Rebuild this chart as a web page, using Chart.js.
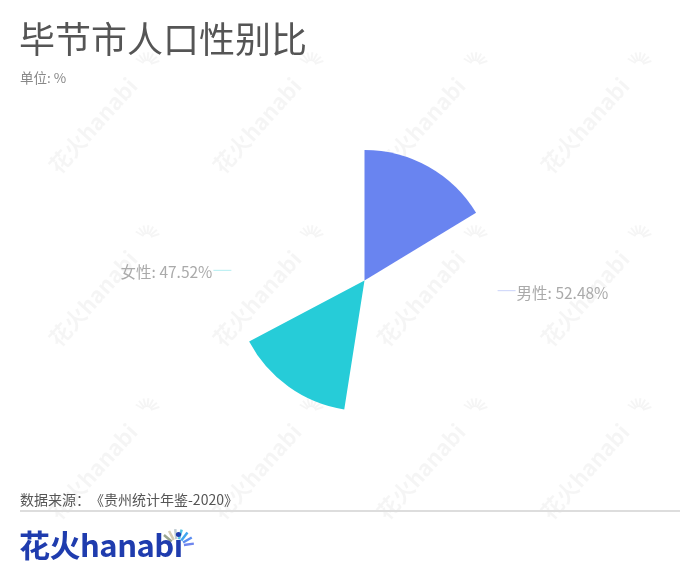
<!DOCTYPE html>
<html>
<head>
<meta charset="utf-8">
<script src="https://cdn.jsdelivr.net/npm/chart.js@4/dist/chart.umd.min.js"></script>
<style>
	body { margin: 0; background: #fff; font-family: "Noto Sans CJK SC", "Noto Sans", sans-serif; text-spacing-trim: space-all; }
	#wrap { position: relative; width: 700px; height: 576px; overflow: hidden; }
	#chart { position: absolute; left: 0; top: 0; }
	.txt { position: absolute; white-space: nowrap; }
	#title { left: 19px; top: 17px; font-size: 36px; line-height: 40px; color: #555; }
	#unit { left: 20px; top: 68px; font-size: 13.5px; line-height: 18px; color: #888; }
	#source { left: 20px; top: 490px; font-size: 14px; line-height: 18px; color: #555; }
	#rule { position: absolute; left: 20px; top: 510px; width: 660px; height: 2px; background: #ddd; }
	#logo { left: 19px; top: 525px; font-size: 31px; line-height: 38px; font-weight: bold; color: #1f3cae; letter-spacing: -0.5px; }
</style>
</head>
<body>
<div id="wrap">
	<canvas id="chart" width="700" height="576"></canvas>
	<div class="txt" id="title">毕节市人口性别比</div>
	<div class="txt" id="unit">单位: %</div>
	<div class="txt" id="source">数据来源：《贵州统计年鉴-2020》</div>
	<div id="rule"></div>
	<div class="txt" id="logo">花火hanabi</div>
</div>
<script>
// Données : rapport hommes / femmes (%)
var categories = ['男性', '女性'];
var values = [52.48, 47.52];
var colors = ['#6984f0', '#26ccd8'];

// part de chaque secteur effectivement tracée (l'image est prise en cours d'animation)
var sweep = 0.311;

// Filigrane "花火hanabi" répété sur tout le fond
var watermark = {
	id: 'watermark',
	beforeDraw: function (chart) {
		var ctx = chart.ctx;
		ctx.save();
		ctx.fillStyle = '#fff';
		ctx.fillRect(0, 0, chart.width, chart.height);
		[65, 238, 411].forEach(function (y) {
			[147, 311, 475, 639].forEach(function (x) {
				ctx.save();
				ctx.translate(x - 94, y + 105);
				ctx.rotate(-48 * Math.PI / 180);
				ctx.fillStyle = 'rgba(0,0,0,0.04)';
				ctx.font = 'bold 22px "Noto Sans CJK SC", sans-serif';
				ctx.textBaseline = 'middle';
				ctx.fillText('花火hanabi', 0, 0);
				ctx.restore();
				// petites étincelles
				ctx.strokeStyle = 'rgba(0,0,0,0.04)';
				ctx.lineWidth = 2;
				for (var k = 0; k < 7; k++) {
					var a = (-150 + k * 22) * Math.PI / 180;
					ctx.beginPath();
					ctx.moveTo(x + 4 * Math.cos(a), y + 4 * Math.sin(a));
					ctx.lineTo(x + 13 * Math.cos(a), y + 13 * Math.sin(a));
					ctx.stroke();
				}
			});
		});
		// étincelles du logo
		var logoRays = ['#9aa58e', '#d6cdb4', '#c0ccd2', '#52c4e6', '#3fa6f0', '#5b8df0', '#6f86ee'];
		ctx.lineWidth = 2.5;
		logoRays.forEach(function (c, k) {
			var a = (-140 + k * 22) * Math.PI / 180;
			ctx.strokeStyle = c;
			ctx.beginPath();
			ctx.moveTo(177 + 7 * Math.cos(a), 546 + 7 * Math.sin(a));
			ctx.lineTo(177 + 17 * Math.cos(a), 546 + 17 * Math.sin(a));
			ctx.stroke();
		});
		ctx.restore();
	}
};

// Réduit chaque secteur à une fraction de son angle complet
var partialSweep = {
	id: 'partialSweep',
	afterDatasetsUpdate: function (chart) {
		chart.getDatasetMeta(0).data.forEach(function (arc) {
			var full = arc.endAngle - arc.startAngle;
			arc.fullEnd = arc.endAngle;
			arc.endAngle = arc.startAngle + full * sweep;
			arc.circumference = full * sweep;
		});
	}
};

// Étiquettes avec ligne de rappel
var sliceLabels = {
	id: 'sliceLabels',
	afterDatasetsDraw: function (chart) {
		var ctx = chart.ctx;
		var meta = chart.getDatasetMeta(0);
		ctx.save();
		ctx.font = '15.5px "Noto Sans CJK SC", sans-serif';
		ctx.textBaseline = 'middle';
		meta.data.forEach(function (arc, i) {
			var mid = (arc.startAngle + arc.fullEnd) / 2;
			var r = arc.outerRadius;
			var ex = arc.x + r * Math.cos(mid);
			var ey = arc.y + r * Math.sin(mid);
			var side = Math.cos(mid) >= 0 ? 1 : -1;
			ctx.strokeStyle = colors[i];
			ctx.globalAlpha = 0.35;
			ctx.lineWidth = 1;
			ctx.beginPath();
			ctx.moveTo(ex + side * 3, ey);
			ctx.lineTo(ex + side * 21, ey);
			ctx.stroke();
			ctx.globalAlpha = 1;
			ctx.fillStyle = '#aaa';
			ctx.textAlign = side > 0 ? 'left' : 'right';
			ctx.fillText(categories[i] + ': ' + values[i].toFixed(2) + '%', ex + side * 22, ey + 2);
		});
		ctx.restore();
	}
};

var chart = new Chart(document.getElementById('chart'), {
	type: 'pie',
	data: {
		labels: categories,
		datasets: [{
			data: values,
			backgroundColor: colors,
			borderWidth: 0
		}]
	},
	options: {
		responsive: false,
		animation: false,
		layout: { padding: { left: 234, right: 205, top: 150, bottom: 165 } },
		plugins: {
			legend: { display: false },
			tooltip: { enabled: false }
		}
	},
	plugins: [watermark, partialSweep, sliceLabels]
});
</script>
</body>
</html>
